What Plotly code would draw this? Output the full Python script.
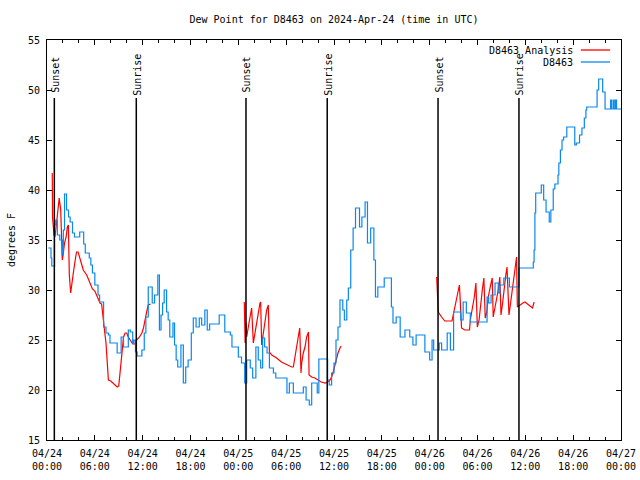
import pandas as pd
import plotly.graph_objects as go

BASE = pd.Timestamp("2024-04-24 00:00")

# D8463 observations: hours since 04/24 00:00 UTC, dew point (F)
obs_hours = [0.16, 0.5, 0.6, 0.88, 0.95, 1.1, 1.3, 1.6, 1.9, 2.05, 2.2, 2.45, 2.7, 2.9, 3.2, 3.45, 3.9, 4.1,
             4.6, 4.8, 5.3, 5.5, 5.7, 6.0, 6.4, 6.6, 7.0, 7.1, 7.4, 7.7, 7.9, 8.5, 8.8, 9.0, 9.3, 9.6, 9.9,
             10.2, 10.45, 10.75, 10.9, 11.1, 11.3, 11.7, 11.9, 12.2, 12.4, 12.7, 12.9, 13.2, 13.5, 13.7, 13.9,
             14.1, 14.3, 14.5, 14.7, 15.0, 15.2, 15.4, 15.8, 16.0, 16.2, 16.4, 16.6, 16.8, 17.1, 17.4, 17.7,
             18.1, 18.35, 18.7, 19.1, 19.4, 19.8, 20.1, 20.4, 21.2, 21.6, 21.9, 22.3, 23.0, 23.2, 23.6, 24.0,
             24.4, 24.8, 25.05, 25.5, 25.8, 26.2, 26.5, 26.8, 27.05, 27.3, 27.6, 27.9, 28.4, 28.7, 29.9, 30.1,
             30.4, 30.9, 31.7, 32.15, 32.5, 32.9, 33.2, 33.6, 33.9, 34.1, 35.0, 35.2, 35.4, 35.7, 36.0, 36.25,
             36.5, 36.75, 37.1, 37.3, 37.6, 37.8, 38.1, 38.4, 38.7, 38.9, 39.2, 39.5, 39.9, 40.2, 40.6, 40.9,
             41.0, 41.2, 41.5, 42.0, 42.3, 42.9, 43.2, 43.4, 43.8, 44.0, 44.3, 44.6, 44.9, 45.5, 45.9, 46.3,
             46.9, 47.4, 48.0, 48.3, 48.5, 49.2, 49.5, 50.2, 50.6, 51.0, 51.6, 51.9, 52.2, 52.6, 53.1, 54.9,
             55.2, 55.4, 55.7, 56.2, 56.6, 56.8, 57.3, 57.8, 58.0, 58.9, 59.2, 60.9, 61.0, 61.1, 61.2, 61.3,
             61.7, 62.0, 62.3, 62.6, 62.9, 63.0, 63.2, 63.5, 63.7, 64.0, 64.1, 64.2, 64.4, 64.6, 64.8, 65.2,
             65.9, 66.2, 66.4, 66.8, 67.1, 67.4, 67.6, 67.7, 68.9, 69.0, 69.2, 69.5, 69.7, 70.0, 70.7, 70.82,
             71.03, 71.15, 71.32, 71.44, 72.0]
obs_dewpt = [34.2, 33.2, 32.4, 32.4, 36.5, 37.0, 35.5, 35.0, 33.5, 36.0, 39.6, 38.0, 37.3, 36.8, 35.7, 35.3, 35.3, 35.8,
             34.6, 33.7, 33.2, 32.5, 31.7, 30.5, 29.5, 28.8, 28.8, 26.3, 25.7, 25.5, 24.7, 24.7, 23.7, 23.7, 25.3, 24.3, 24.3,
             26.0, 25.8, 24.7, 25.0, 23.8, 23.4, 23.4, 24.0, 25.7, 27.3, 30.3, 30.3, 28.7, 29.5, 29.5, 31.5,
             26.0, 27.5, 28.7, 30.0, 27.8, 27.0, 25.3, 26.7, 24.5, 23.0, 22.3, 22.3, 24.5, 20.7, 22.3, 23.0,
             25.7, 27.2, 26.3, 27.2, 26.5, 28.0, 26.0, 26.6, 26.6, 27.5, 27.5, 25.8, 25.5, 24.3, 24.3, 23.3,
             22.7, 20.7, 23.0, 22.2, 21.2, 24.3, 23.0, 22.2, 25.2, 24.3, 23.7, 22.2, 21.7, 21.2, 21.2, 19.7,
             20.7, 19.7, 19.7, 20.3, 19.0, 18.5, 20.7, 20.7, 19.7, 23.1, 23.1, 21.0, 20.5, 21.7, 22.7, 25.0,
             26.3, 29.0, 28.0, 27.0, 29.0, 30.2, 34.0, 36.2, 38.2, 38.2, 36.3, 37.3, 38.8, 34.7, 36.2, 36.2,
             33.0, 29.3, 30.3, 30.3, 31.2, 31.2, 28.3, 26.7, 27.3, 27.3, 25.3, 25.3, 26.0, 25.3, 24.5, 25.5,
             25.5, 23.8, 23.0, 25.0, 24.0, 24.7, 24.0, 25.7, 24.0, 27.8, 27.8, 27.0, 28.8, 27.7, 26.8, 26.8,
             29.3, 28.7, 29.5, 30.7, 29.7, 30.5, 31.2, 31.2, 30.3, 30.3, 32.2, 32.2, 32.8, 34.0, 37.7, 39.7,
             39.7, 40.5, 39.0, 37.8, 37.8, 36.8, 38.0, 40.1, 40.6, 40.6, 41.5, 42.7, 44.0, 45.0, 45.3, 46.3,
             46.3, 44.5, 44.7, 45.5, 46.2, 47.2, 48.0, 48.3, 48.3, 50.0, 51.1, 51.1, 49.8, 48.1, 49.0, 48.1,
             49.0, 48.1, 49.0, 48.1, 48.1]

# D8463 Analysis: three night-time segments (None = gap)
ana_hours = [0.66, 0.70, 0.88, 1.0, 1.2, 1.34, 1.41, 1.53, 1.72, 1.92, 2.05, 2.2, 2.4, 2.55, 2.68, 2.8, 2.97, 3.1,
             3.3, 3.5, 3.7, 3.9, 4.1, 4.35, 4.55, 4.98, 5.4, 5.7, 6.0, 6.3, 6.65, 6.85, 7.06, 7.28, 7.4, 7.5,
             7.6, 7.7, 8.0, 8.3, 8.8, 9.0, 9.16, 9.3, 9.37, 9.6, 9.8, 10.0, 10.2, 10.4, 10.75, 11.05, 11.25,
             11.6, 11.9, 12.1, 12.3, 12.5, 12.7, 13.0, 18.0,
             24.75, 24.85, 24.96, 25.05, 25.25, 25.46, 25.67, 25.88, 26.1, 26.3, 26.5, 26.72, 26.8, 26.93,
             27.05, 27.13, 27.35, 27.56, 27.76, 27.9, 28.2, 28.8, 29.4, 30.1, 30.7, 30.9, 31.1, 31.3, 31.5,
             31.7, 31.86, 31.95, 32.15, 32.36, 32.57, 32.8, 32.87, 33.2, 33.6, 34.0, 34.4, 34.9, 35.2, 35.5,
             35.7, 35.9, 36.1, 36.3, 36.5, 36.75, 36.9, 42.0,
             48.88, 48.95, 49.08, 49.5, 49.9, 50.8, 51.0, 51.2, 51.4, 51.6, 51.73, 51.8, 52.0, 52.4, 53.0,
             53.1, 53.4, 53.6, 53.8, 53.98, 54.2, 54.4, 54.6, 54.8, 54.97, 55.15, 55.35, 55.65, 55.85, 55.97,
             56.2, 56.4, 56.6, 56.8, 56.95, 57.15, 57.35, 57.55, 57.7, 57.85, 57.95, 58.2, 58.4, 58.6, 58.75,
             58.9, 59.0, 59.3, 59.7, 59.95, 60.4, 60.8, 60.9, 61.1]
ana_dewpt = [41.7, 37.2, 35.5, 35.3, 36.7, 37.7, 38.5, 39.2, 38.0, 33.0, 33.7, 34.7, 35.3, 36.3, 36.5, 31.5, 29.7, 30.7,
             31.7, 32.8, 33.8, 33.8, 33.3, 32.7, 32.0, 31.5, 30.7, 30.1, 29.9, 29.3, 28.7, 28.6, 26.7, 25.5, 24.7, 23.0,
             21.7, 21.0, 20.9, 20.7, 20.3, 20.4, 21.7, 22.7, 23.5, 25.3, 25.7, 25.7, 25.3, 25.0, 24.6, 24.6, 25.0,
             25.3, 25.7, 26.2, 27.2, 27.8, 28.5, 28.6, None,
             28.8, 24.7, 26.7, 25.3, 26.3, 27.5, 28.2, 24.7, 25.8, 27.0, 28.0, 28.7, 28.8, 24.5,
             25.2, 25.7, 27.0, 28.0, 28.5, 23.8, 23.5, 23.2, 22.8, 22.5, 22.3, 22.3, 23.3, 24.3, 25.3,
             26.2, 21.7, 22.7, 23.7, 24.3, 25.3, 25.8, 21.5, 21.3, 21.2, 21.0, 20.8, 20.7, 20.8, 21.0,
             21.3, 21.8, 22.5, 23.2, 23.7, 24.2, 24.4, None,
             31.3, 29.7, 27.8, 27.3, 26.9, 26.9, 27.7, 28.7, 29.3, 30.3, 30.5, 29.5, 26.2, 26.0, 26.0,
             27.0, 28.3, 29.3, 30.7, 26.3, 27.0, 28.7, 30.0, 31.2, 27.2, 27.7, 29.3, 30.5, 31.2, 27.3,
             28.3, 29.2, 30.0, 31.3, 27.5, 28.7, 30.3, 31.5, 32.3, 28.3, 27.5, 29.0, 30.3, 31.5, 32.7,
             33.3, 28.3, 28.5, 28.7, 28.8, 28.5, 28.3, 28.2, 28.8]

# Sun events (hours since 04/24 00:00 UTC)
event_hours = [0.92, 11.2, 24.96, 35.15, 49.05, 59.2]
event_names = ["Sunset", "Sunrise", "Sunset", "Sunrise", "Sunset", "Sunrise"]

tick_hours = [0, 6, 12, 18, 24, 30, 36, 42, 48, 54, 60, 66, 72]
tick_labels = ["04/24<br>00:00", "04/24<br>06:00", "04/24<br>12:00", "04/24<br>18:00",
               "04/25<br>00:00", "04/25<br>06:00", "04/25<br>12:00", "04/25<br>18:00",
               "04/26<br>00:00", "04/26<br>06:00", "04/26<br>12:00", "04/26<br>18:00",
               "04/27<br>00:00"]


def to_time(hours):
    return [None if h is None else BASE + pd.Timedelta(hours=h) for h in hours]


FONT = "DejaVu Sans Mono"
RED = "#ff0000"
BLUE = "#0a88f0"

fig = go.Figure()
fig.add_trace(go.Scatter(x=to_time(ana_hours), y=ana_dewpt, mode="lines", name="D8463 Analysis",
                         line=dict(color=RED, width=1.2), connectgaps=False))
fig.add_trace(go.Scatter(x=to_time(obs_hours), y=obs_dewpt, mode="lines", name="D8463",
                         line=dict(color=BLUE, width=1.2, shape="hv")))

shapes = []
annotations = []
for h, name in zip(event_hours, event_names):
    t = BASE + pd.Timedelta(hours=h)
    shapes.append(dict(type="line", xref="x", yref="y", x0=t, x1=t, y0=15, y1=49.2,
                       line=dict(color="black", width=1.5)))
    annotations.append(dict(x=t, y=51.55, xref="x", yref="y", text=name, textangle=-90,
                            showarrow=False, font=dict(family=FONT, size=10, color="black"),
                            xshift=1))

# Legend drawn gnuplot-style (text right, sample line to its right)
legend_rows = [("D8463 Analysis", RED, 0.975), ("D8463", BLUE, 0.945)]
for label, col, yp in legend_rows:
    annotations.append(dict(x=0.919, y=yp, xref="paper", yref="paper", text=label,
                            xanchor="right", yanchor="middle", showarrow=False,
                            font=dict(family=FONT, size=10, color="black")))
    shapes.append(dict(type="line", xref="paper", yref="paper", x0=0.930, x1=0.981, y0=yp, y1=yp,
                       line=dict(color=col, width=1.3)))

fig.update_layout(
    width=640, height=480,
    margin=dict(l=47, r=19, t=40, b=40, autoexpand=False),
    paper_bgcolor="white", plot_bgcolor="white",
    showlegend=False,
    title=dict(text="Dew Point for D8463 on 2024-Apr-24 (time in UTC)", x=(47 + 287) / 640, xanchor="center",
               y=1 - 19 / 480, yanchor="middle", font=dict(family=FONT, size=10, color="black")),
    font=dict(family=FONT, size=10, color="black"),
    shapes=shapes, annotations=annotations,
)
fig.update_xaxes(
    range=[BASE, BASE + pd.Timedelta(hours=72)],
    tickvals=to_time(tick_hours), ticktext=tick_labels,
    ticks="inside", ticklen=5, tickcolor="black", tickwidth=1,
    minor=dict(dtick=2 * 3600 * 1000, ticks="inside", ticklen=3, tickcolor="black", showgrid=False),
    showline=True, linecolor="black", linewidth=1, mirror="allticks",
    showgrid=False, zeroline=False, ticklabelstandoff=4,
    tickfont=dict(family=FONT, size=10, color="black"),
)
fig.update_yaxes(
    range=[15, 55], dtick=5, tick0=15,
    ticks="inside", ticklen=5, tickcolor="black",
    showline=True, linecolor="black", linewidth=1, mirror="allticks",
    showgrid=False, zeroline=False, ticklabelstandoff=4,
    tickfont=dict(family=FONT, size=10, color="black"),
    title=dict(text="degrees F", standoff=10, font=dict(family=FONT, size=10, color="black")),
)

fig.write_html("out.html", config={"displayModeBar": False},
               post_script="document.body.style.margin='0px';document.body.style.overflow='hidden';")
